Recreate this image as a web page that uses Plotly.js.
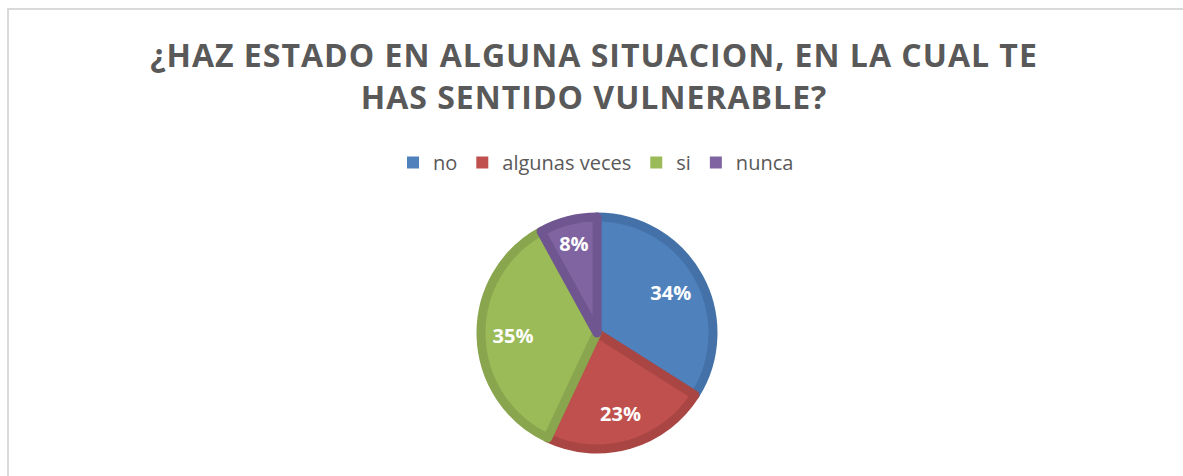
<!DOCTYPE html>
<html>
<head>
<meta charset="utf-8">
<script src="https://cdn.plot.ly/plotly-3.0.1.min.js"></script>
<style>
  html, body { margin: 0; padding: 0; background: #ffffff; overflow: hidden; }
  #chart { width: 1183px; height: 476px; }
  #chart .gtitle { letter-spacing: 1px; }
</style>
</head>
<body>
<div id="chart"></div>
<script>
const categories = ["no", "algunas veces", "si", "nunca"];
const values = [34, 23, 35, 8];
const fillColors = ["#4f81bd", "#c0504d", "#9bbb59", "#8064a2"];
const edgeColors = ["#4472a8", "#a94643", "#89a64e", "#6f5690"];
const titleText = "¿HAZ ESTADO EN ALGUNA SITUACION, EN LA CUAL TE<br>HAS SENTIDO VULNERABLE?";

const W = 1183, H = 476;
const cx = 597, cy = 333, R = 116;
const pieDomain = {
  x: [(cx - R) / W, (cx + R) / W],
  y: [(H - cy - R) / H, (H - cy + R) / H]
};

// base pie: plain fills, provides the legend squares
const legendBase = {
  type: "pie",
  labels: categories,
  values: values,
  sort: false,
  direction: "clockwise",
  rotation: 0,
  textinfo: "none",
  marker: { colors: fillColors, line: { width: 0 } },
  domain: pieDomain
};

// visible slices with darker edge band
const slices = {
  type: "pie",
  labels: categories,
  values: values,
  sort: false,
  direction: "clockwise",
  rotation: 0,
  showlegend: false,
  textinfo: "none",
  marker: { colors: fillColors, line: { color: edgeColors, width: 9 } },
  domain: pieDomain
};

// transparent ring carrying the percentage labels further out, as in the reference
const labelsRing = {
  type: "pie",
  labels: categories,
  values: values,
  sort: false,
  direction: "clockwise",
  rotation: 0,
  hole: 0.45,
  showlegend: false,
  textinfo: "percent",
  textposition: "inside",
  insidetextorientation: "horizontal",
  insidetextfont: { family: "Open Sans, sans-serif", size: 20, color: "#ffffff", weight: "bold" },
  marker: { colors: categories.map(() => "rgba(0,0,0,0)"), line: { width: 0 } },
  domain: pieDomain
};

const layout = {
  width: W, height: H,
  margin: { l: 0, r: 0, t: 0, b: 0 },
  paper_bgcolor: "#ffffff",
  font: { family: "Open Sans, sans-serif", color: "#595959" },
  title: {
    text: titleText,
    font: { family: "Open Sans, sans-serif", size: 32, color: "#595959", weight: "bold" },
    x: 594 / W, xanchor: "center",
    y: 1 - 67 / H, yanchor: "top", yref: "container"
  },
  showlegend: true,
  legend: {
    orientation: "h",
    x: 596 / W, xanchor: "center",
    y: 1 - 143 / H, yanchor: "top",
    font: { family: "Open Sans, sans-serif", size: 20, color: "#595959" },
    itemwidth: 30
  },
  shapes: [{
    type: "rect", xref: "paper", yref: "paper",
    x0: 8 / W, x1: 1.05, y0: -0.05, y1: 1 - 9 / H,
    line: { color: "#d9d9d9", width: 2 }, fillcolor: "rgba(0,0,0,0)"
  }]
};

Plotly.newPlot("chart", [legendBase, slices, labelsRing], layout, { displayModeBar: false, staticPlot: true });
</script>
</body>
</html>
